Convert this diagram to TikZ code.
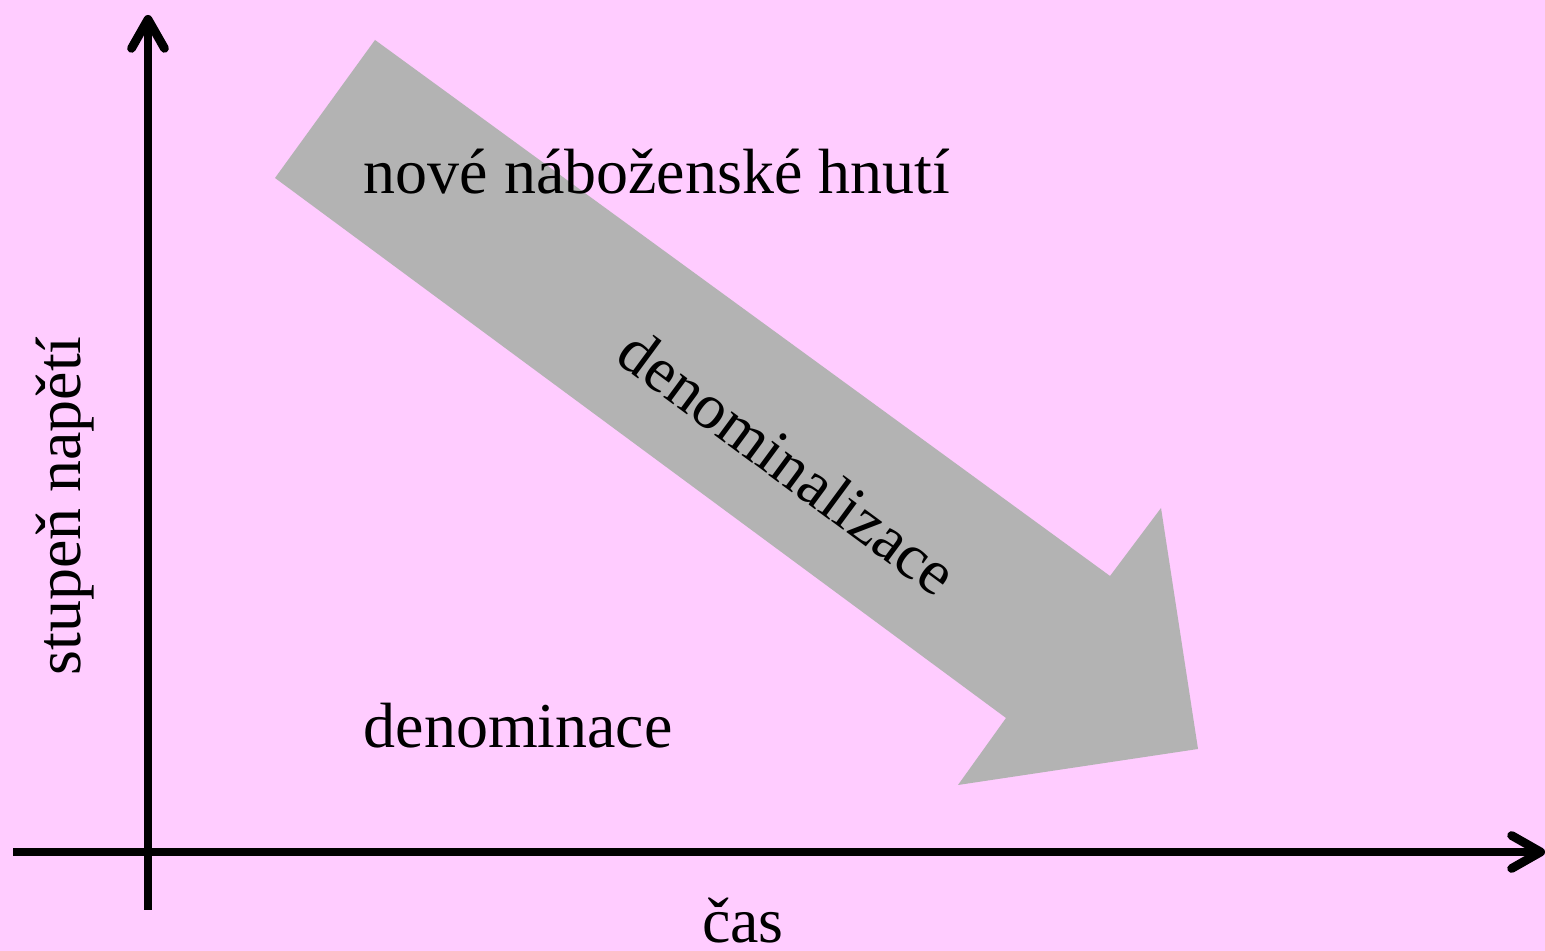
\documentclass[tikz,border=0pt]{standalone}
\usepackage{fontspec}
\setmainfont{Liberation Serif}
\usepackage{xcolor}
\usetikzlibrary{arrows.meta, positioning, calc}

\definecolor{bgpink}{HTML}{FFCCFF}
\definecolor{arrowgray}{HTML}{B3B3B3}

\begin{document}
\begin{tikzpicture}[
    axis/.style={line width=2.5pt, -{Straight Barb[length=2.9mm, width=3.3mm, round]}},
    label/.style={inner sep=0pt, font=\fontsize{18.2}{22}\selectfont},
    bigarrow/.style={fill=arrowgray, draw=none}
]
    \path[use as bounding box, fill=bgpink] (0,0) rectangle (15.45,9.51);

    % the big gray arrow
    \path[bigarrow] (3.75,9.11) -- (2.75,7.73) -- (10.06,2.33) -- (9.58,1.66)
        -- (11.98,2.02) -- (11.61,4.43) -- (11.10,3.75) -- cycle;

    % axes
    \coordinate (ybot) at (1.48,0.41);
    \coordinate (ytop) at (1.48,9.36);
    \coordinate (xleft) at (0.13,0.99);
    \coordinate (xright) at (15.45,0.99);
    \draw[axis] (ybot) -- (ytop);
    \draw[axis] (xleft) -- (xright);

    \node[label, anchor=base west] (nrm) at (3.63,7.57) {nové náboženské hnutí};
    \node[label, anchor=base west] (denom) at (3.63,2.03) {denominace};
    \node[label, anchor=base] (time) at (7.43,0.08) {čas};
    \node[label, anchor=base, rotate=90] (tension) at (0.80,4.45) {stupeň napětí};
    \node[label, rotate=-36.4] (process) at (7.88,4.89) {denominalizace};
\end{tikzpicture}
\end{document}
